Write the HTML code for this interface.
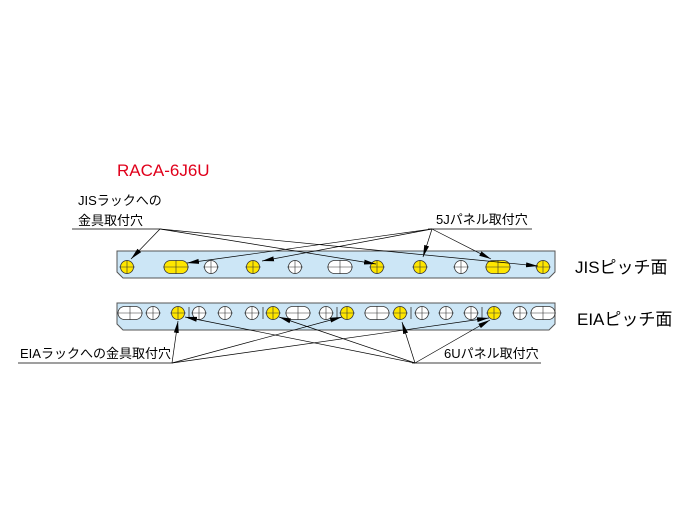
<!DOCTYPE html>
<html><head><meta charset="utf-8"><style>
body{margin:0;background:#fff;width:689px;height:524px;overflow:hidden}
svg text{font-family:"Liberation Sans","Noto Sans CJK JP",sans-serif}
</style></head><body>
<svg width="689" height="524" viewBox="0 0 689 524" xmlns="http://www.w3.org/2000/svg">
<defs>
<marker id="a" viewBox="0 0 12 6" refX="12" refY="3" markerWidth="12" markerHeight="6" markerUnits="userSpaceOnUse" orient="auto"><path d="M0,0.5L12,3L0,5.5z" fill="#000"/></marker>
<g id="wc"><circle r="6.5" fill="#fff" stroke="#333" stroke-width="0.8"/><path d="M-8,0H8M0,-7V7" stroke="#333" stroke-width="0.6"/></g>
<g id="yc"><circle r="6.5" fill="#ffe600" stroke="#333" stroke-width="0.8"/><path d="M-8,0H8M0,-7V7" stroke="#333" stroke-width="0.6"/></g>
<g id="ws"><rect x="-12" y="-6.5" width="24" height="13" rx="6.5" fill="#fff" stroke="#333" stroke-width="0.8"/><path d="M-13,0H13M0,-7V7" stroke="#333" stroke-width="0.6"/></g>
<g id="ys"><rect x="-12" y="-6.5" width="24" height="13" rx="6.5" fill="#ffe600" stroke="#333" stroke-width="0.8"/><path d="M-13,0H13M0,-7V7" stroke="#333" stroke-width="0.6"/></g>
</defs>
<text x="117" y="176" font-size="17" fill="#e0001b">RACA-6J6U</text>
<path d="M117,251H555V272L549,278H123L117,272Z" fill="#cce6f6" stroke="#555" stroke-width="1"/>
<use href="#yc" x="127" y="267"/><use href="#ys" x="176" y="267"/><use href="#wc" x="211" y="267"/>
<use href="#yc" x="253" y="267"/><use href="#wc" x="295" y="267"/><use href="#ws" x="340" y="267"/>
<use href="#yc" x="377" y="267"/><use href="#yc" x="420" y="267"/><use href="#wc" x="461" y="267"/>
<use href="#ys" x="498" y="267"/><use href="#yc" x="543" y="267"/>
<path d="M117,303H555V324L549,330H123L117,324Z" fill="#cce6f6" stroke="#555" stroke-width="1"/>
<g stroke="#333" stroke-width="0.8"><path d="M189,307V319M263,307V319M337,307V319M411,307V319M482,307V319"/></g>
<use href="#ws" x="130" y="313"/><use href="#wc" x="153" y="313"/><use href="#yc" x="178" y="313"/>
<use href="#wc" x="199" y="313"/><use href="#wc" x="225" y="313"/><use href="#wc" x="252" y="313"/>
<use href="#yc" x="273" y="313"/><use href="#ws" x="298" y="313"/><use href="#wc" x="326" y="313"/>
<use href="#yc" x="347" y="313"/><use href="#ws" x="377" y="313"/><use href="#yc" x="400" y="313"/>
<use href="#wc" x="422" y="313"/><use href="#wc" x="446" y="313"/><use href="#wc" x="471" y="313"/>
<use href="#yc" x="494" y="313"/><use href="#wc" x="520" y="313"/><use href="#ws" x="543" y="313"/>
<text x="78" y="205" font-size="13">JISラックへの</text>
<text x="78" y="225" font-size="13">金具取付穴</text>
<text x="436" y="224" font-size="13">5Jパネル取付穴</text>
<text x="575" y="273" font-size="17">JISピッチ面</text>
<text x="577" y="325" font-size="17">EIAピッチ面</text>
<text x="20" y="358" font-size="13">EIAラックへの金具取付穴</text>
<text x="444" y="358" font-size="13">6Uパネル取付穴</text>
<g stroke="#000" stroke-width="0.7" fill="none">
<path d="M72,229H160M428,229H532M18,363H172M412,363H541"/>
<path d="M160,229L131,259" marker-end="url(#a)"/>
<path d="M160,229L376,264" marker-end="url(#a)"/>
<path d="M160,229L538,266" marker-end="url(#a)"/>
<path d="M432,229L187,263" marker-end="url(#a)"/>
<path d="M432,229L262,261" marker-end="url(#a)"/>
<path d="M432,229L423,257" marker-end="url(#a)"/>
<path d="M432,229L491,259" marker-end="url(#a)"/>
<path d="M172,363L178,321" marker-end="url(#a)"/>
<path d="M172,363L342,317" marker-end="url(#a)"/>
<path d="M172,363L489,318" marker-end="url(#a)"/>
<path d="M415,363L185,317" marker-end="url(#a)"/>
<path d="M415,363L279,317" marker-end="url(#a)"/>
<path d="M415,363L402,322" marker-end="url(#a)"/>
<path d="M415,363L490,320" marker-end="url(#a)"/>
</g>
</svg>
</body></html>
